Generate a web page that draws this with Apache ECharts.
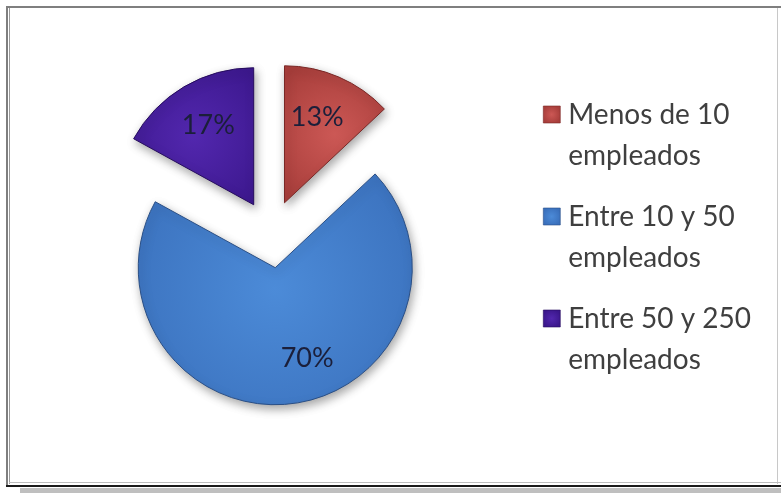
<!DOCTYPE html>
<html>
<head>
<meta charset="utf-8">
<script src="https://cdn.jsdelivr.net/npm/echarts@6/dist/echarts.min.js"></script>
<style>
  html, body { margin: 0; padding: 0; background: #ffffff; }
  #chart { width: 781px; height: 493px; }
</style>
</head>
<body>
<div id="chart"></div>
<script>
// Company size distribution (share of firms, %)
const categories = ['Menos de 10 empleados', 'Entre 10 y 50 empleados', 'Entre 50 y 250 empleados'];
const shares = [13, 70, 17];

// Slice palette: [light centre, dark rim, outline]
const palette = [
  ['#CC5855', '#A83E3B', '#7A2826'],
  ['#4C8BD8', '#3A70BC', '#2A4F86'],
  ['#5227AE', '#3B178C', '#260C5E']
];

const FONT = 'Lato, "Open Sans", "DejaVu Sans", sans-serif';

function radial(c) {
  return new echarts.graphic.RadialGradient(0.5, 0.5, 0.75, [
    { offset: 0, color: c[0] },
    { offset: 1, color: c[1] }
  ]);
}

const sliceData = categories.map((name, i) => ({
  name: name,
  value: shares[i],
  selected: true,
  itemStyle: { color: radial(palette[i]), borderColor: palette[i][2] }
}));

const labelData = categories.map((name, i) => ({
  name: name,
  value: shares[i],
  selected: true
}));

// Legend marker: a square at the top of a taller box so it lines up with the first text line
const LEGEND_ICON = 'path://M0,0H17V17H0Z M20,58H20.01';

const legendData = categories.map((name, i) => ({
  name: name,
  icon: LEGEND_ICON,
  itemStyle: {
    color: new echarts.graphic.RadialGradient(0.42, 0.15, 0.45, [
      { offset: 0, color: palette[i][0] },
      { offset: 1, color: palette[i][1] }
    ]),
    borderColor: palette[i][2],
    borderWidth: 0.6
  }
}));

const PIE_CENTER = [271, 234];
const EXPLODE = 34;

const chart = echarts.init(document.getElementById('chart'), null, { renderer: 'canvas' });

chart.setOption({
  animation: false,
  backgroundColor: '#ffffff',
  legend: {
    orient: 'vertical',
    left: 543,
    top: 94,
    padding: 0,
    itemWidth: 20,
    itemHeight: 58,
    itemGap: 20,
    selectedMode: false,
    data: legendData,
    formatter: name => name.replace(' empleados', '\nempleados'),
    textStyle: {
      fontFamily: FONT,
      fontSize: 28,
      lineHeight: 41,
      color: '#3F3F3F'
    }
  },
  series: [
    {
      name: 'Empresas',
      type: 'pie',
      center: PIE_CENTER,
      radius: 137,
      startAngle: 90,
      clockwise: true,
      selectedMode: 'multiple',
      selectedOffset: EXPLODE,
      avoidLabelOverlap: false,
      label: { show: false },
      labelLine: { show: false },
      emphasis: { disabled: true },
      itemStyle: {
        borderWidth: 1,
        shadowBlur: 10,
        shadowColor: 'rgba(0,0,0,0.35)',
        shadowOffsetX: 2,
        shadowOffsetY: 4
      },
      data: sliceData
    },
    {
      // Transparent ring carrying the percentage labels further out than the slice midpoint
      name: 'Etiquetas',
      type: 'pie',
      silent: true,
      center: PIE_CENTER,
      radius: 184,
      startAngle: 90,
      clockwise: true,
      selectedMode: 'multiple',
      selectedOffset: EXPLODE,
      avoidLabelOverlap: false,
      emphasis: { disabled: true },
      itemStyle: { color: 'rgba(0,0,0,0)', borderWidth: 0 },
      labelLine: { show: false },
      label: {
        show: true,
        position: 'inside',
        formatter: '{c}%',
        fontFamily: FONT,
        fontSize: 27,
        color: '#1B1F3A'
      },
      labelLayout: p => (p.dataIndex === 1 ? { dx: 20, dy: -4 } : p.dataIndex === 0 ? { dx: -5, dy: 2 } : { dx: 3, dy: 2 }),
      data: labelData
    }
  ],
  graphic: [
    // outer frame
    { type: 'rect', silent: true, shape: { x: 6, y: 6, width: 775, height: 2 }, style: { fill: '#7F7F7F' } },
    { type: 'rect', silent: true, shape: { x: 6, y: 6, width: 2, height: 481 }, style: { fill: '#7F7F7F' } },
    { type: 'line', silent: true, shape: { x1: 9.5, y1: 8, x2: 9.5, y2: 484 }, style: { stroke: '#9A9A9A', lineWidth: 1 } },
    { type: 'line', silent: true, shape: { x1: 777.5, y1: 8, x2: 777.5, y2: 484 }, style: { stroke: '#C8C8C8', lineWidth: 1 } },
    { type: 'line', silent: true, shape: { x1: 9, y1: 482.5, x2: 781, y2: 482.5 }, style: { stroke: '#BDBDBD', lineWidth: 1 } },
    { type: 'rect', silent: true, shape: { x: 6, y: 485, width: 775, height: 2 }, style: { fill: '#1A1A1A' } },
    { type: 'rect', silent: true, shape: { x: 20, y: 488, width: 761, height: 5 }, style: { fill: '#BFBFBF' } }
  ]
});
</script>
</body>
</html>
